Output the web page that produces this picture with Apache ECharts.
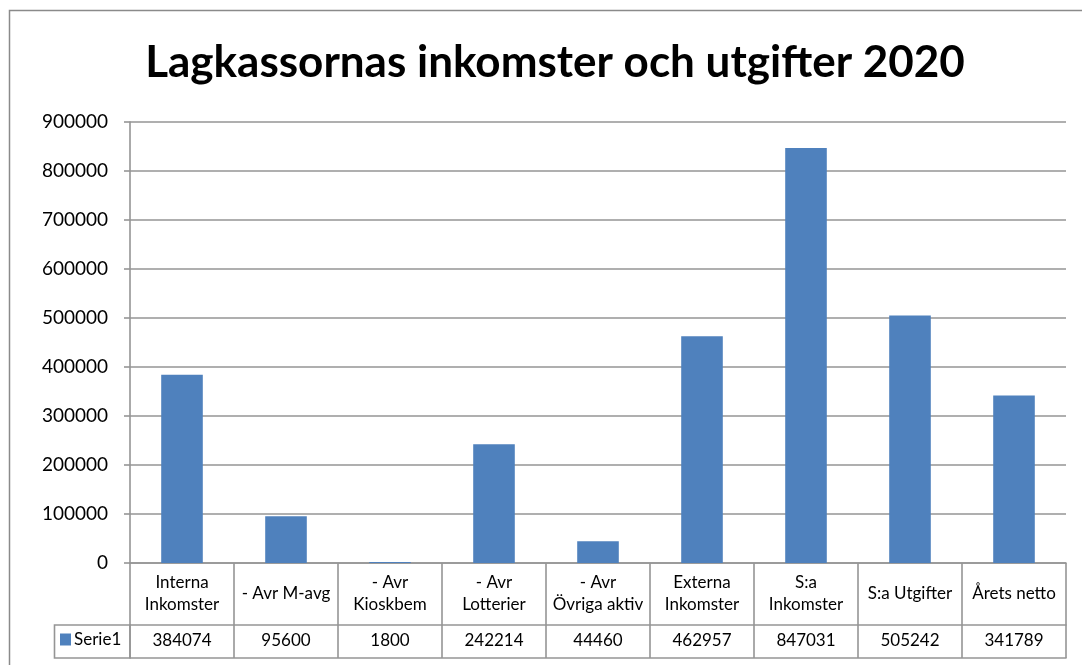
<!DOCTYPE html>
<html><head><meta charset="utf-8">
<script src="https://cdn.jsdelivr.net/npm/echarts@6/dist/echarts.min.js"></script>
<style>html,body{margin:0;padding:0;background:#fff}#c{width:1082px;height:665px}</style>
</head><body><div id="c"></div>
<script>
var titleText = 'Lagkassornas inkomster och utgifter 2020';
var categories = ['Interna\nInkomster', '- Avr M-avg', '- Avr\nKioskbem', '- Avr\nLotterier', '- Avr\nÖvriga aktiv', 'Externa\nInkomster', 'S:a\nInkomster', 'S:a Utgifter', 'Årets netto'];
var seriesName = 'Serie1';
var values = [384074, 95600, 1800, 242214, 44460, 462957, 847031, 505242, 341789];
var yTicks = {min: 0, max: 900000, interval: 100000};

var FONT = 'Lato';
var GRID = '#959595';
var LW = 1.6;
var chart = echarts.init(document.getElementById('c'), null, {renderer: 'canvas'});
chart.setOption({
  animation: false,
  backgroundColor: '#fff',
  title: {
    text: titleText, left: 550, top: 36, textAlign: 'center',
    textStyle: {fontFamily: FONT, fontWeight: 'bold', fontSize: 44, color: '#000'}
  },
  legend: {
    data: [seriesName], left: 60, top: 631, itemWidth: 11, itemHeight: 12, itemGap: 4,
    icon: 'rect', padding: 0,
    textStyle: {fontFamily: FONT, fontSize: 17, color: '#000', padding: [0, 0, 0, -2]}
  },
  grid: {left: 130, right: 16, top: 122, bottom: 102},
  xAxis: [{
    type: 'category', data: categories, position: 'bottom',
    axisLine: {show: true, lineStyle: {color: GRID, width: LW}},
    axisTick: {show: true, interval: 0, length: 62, lineStyle: {color: GRID, width: LW}},
    axisLabel: {interval: 0, margin: 31, verticalAlign: 'middle', fontFamily: FONT, fontSize: 17, color: '#000', lineHeight: 22}
  }, {
    type: 'category', data: values.map(String), position: 'bottom', offset: 62,
    axisLine: {show: true, lineStyle: {color: GRID, width: LW}},
    axisTick: {show: true, interval: 0, length: 33, lineStyle: {color: GRID, width: LW}},
    axisLabel: {interval: 0, margin: 16, verticalAlign: 'middle', fontFamily: FONT, fontSize: 17, color: '#000'}
  }, {
    type: 'category', data: values.map(String), position: 'bottom', offset: 95,
    axisLine: {show: true, lineStyle: {color: GRID, width: LW}},
    axisTick: {show: false}, axisLabel: {show: false}
  }],
  yAxis: {
    type: 'value', min: yTicks.min, max: yTicks.max, interval: yTicks.interval,
    axisLine: {show: true, lineStyle: {color: GRID, width: LW}},
    axisTick: {show: true, length: 6, lineStyle: {color: GRID, width: LW}},
    splitLine: {show: true, lineStyle: {color: GRID, width: LW}},
    axisLabel: {margin: 22, fontFamily: FONT, fontSize: 19, color: '#000', formatter: function (v) { return String(v); }}
  },
  graphic: [
    {type: 'rect', shape: {x: 9.5, y: 10.5, width: 1100, height: 700}, style: {fill: 'none', stroke: '#8a8a8a', lineWidth: 1.5}, silent: true, z: -1},
    {type: 'rect', shape: {x: 54.5, y: 625, width: 75.5, height: 33}, style: {fill: 'none', stroke: GRID, lineWidth: LW}, silent: true}
  ],
  series: [{
    name: seriesName, type: 'bar', data: values, barWidth: '40%',
    itemStyle: {color: '#4F81BD'}
  }]
});
</script></body></html>
